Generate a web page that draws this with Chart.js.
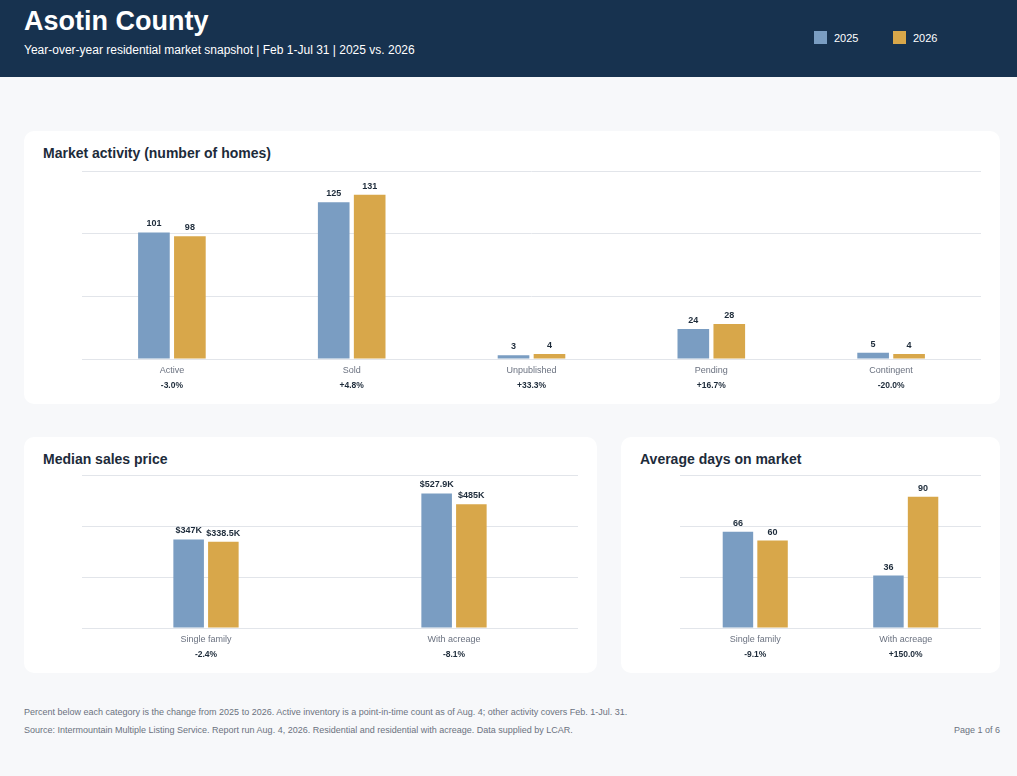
<!DOCTYPE html>
<html><head><meta charset="utf-8">
<script src="https://cdn.jsdelivr.net/npm/chart.js@4.4.1/dist/chart.umd.min.js"></script>
<style>
body{margin:0;width:1017px;height:776px;background:#f7f8fa;font-family:"Liberation Sans",Arial,sans-serif;position:relative;overflow:hidden}
.hdr{position:absolute;left:0;top:0;width:1017px;height:77px;background:#17324f;color:#fff}
.hdr h1{position:absolute;left:24px;top:6px;margin:0;font-size:27px;font-weight:bold}
.hdr .sub{position:absolute;left:24px;top:43px;font-size:12px}
.lg{position:absolute;top:31px;font-size:11px;display:flex;align-items:center}
.lg i{display:inline-block;width:13px;height:13px;margin-right:7px}
.card{position:absolute;background:#fff;border-radius:10px}
.card h2{position:absolute;left:19px;top:14px;margin:0;font-size:14px;font-weight:bold;color:#1d2b3a}
.cv{position:absolute}
.foot{position:absolute;left:24px;font-size:9px;color:#6b7280}
</style></head><body>
<div class="hdr"><h1>Asotin County</h1><div class="sub">Year-over-year residential market snapshot | Feb 1-Jul 31 | 2025 vs. 2026</div>
<div class="lg" style="left:814px"><i style="background:#7a9dc2"></i>2025</div>
<div class="lg" style="left:893px"><i style="background:#d8a74a"></i>2026</div></div>
<div class="card" style="left:24px;top:131px;width:976px;height:273px"><h2>Market activity (number of homes)</h2>
<div class="cv" style="left:58px;top:40px;width:899px;height:226px"><canvas id="c1"></canvas></div></div>
<div class="card" style="left:24px;top:437px;width:573px;height:236px"><h2>Median sales price</h2>
<div class="cv" style="left:58px;top:38px;width:496px;height:192px"><canvas id="c2"></canvas></div></div>
<div class="card" style="left:621px;top:437px;width:379px;height:236px"><h2>Average days on market</h2>
<div class="cv" style="left:59px;top:38px;width:301px;height:192px"><canvas id="c3"></canvas></div></div>
<div class="foot" style="top:707px">Percent below each category is the change from 2025 to 2026. Active inventory is a point-in-time count as of Aug. 4; other activity covers Feb. 1-Jul. 31.</div>
<div class="foot" style="top:725px">Source: Intermountain Multiple Listing Service. Report run Aug. 4, 2026. Residential and residential with acreage. Data supplied by LCAR.</div>
<div class="foot" style="top:725px;left:auto;right:17px">Page 1 of 6</div>
<script>
const activityCats = ['Active', 'Sold', 'Unpublished', 'Pending', 'Contingent'];
const activity2025 = [101, 125, 3, 24, 5];
const activity2026 = [98, 131, 4, 28, 4];
const activityChange = ['-3.0%', '+4.8%', '+33.3%', '+16.7%', '-20.0%'];

const typeCats = ['Single family', 'With acreage'];
const price2025 = [347000, 527900];
const price2026 = [338500, 485000];
const priceChange = ['-2.4%', '-8.1%'];

const days2025 = [66, 36];
const days2026 = [60, 90];
const daysChange = ['-9.1%', '+150.0%'];

const fmtPrice = v => '$' + (v / 1000) + 'K';
const fmtNum = v => String(v);

// value labels above bars, category name and change percent under each category
const labelPlugin = {
  id: 'labels',
  afterDatasetsDraw(chart, args, opts) {
    const ctx = chart.ctx;
    ctx.save();
    ctx.fillStyle = '#1d2b3a';
    ctx.font = 'bold 9px "Liberation Sans", Arial';
    ctx.textAlign = 'center';
    ctx.textBaseline = 'bottom';
    chart.data.datasets.forEach((ds, i) => {
      chart.getDatasetMeta(i).data.forEach((bar, j) => {
        ctx.fillText(opts.fmt(ds.data[j]), bar.x, bar.y - 4);
      });
    });
    const xs = chart.scales.x;
    const bottom = chart.chartArea.bottom;
    ctx.textBaseline = 'middle';
    chart.data.labels.forEach((t, j) => {
      ctx.fillStyle = '#6b7280';
      ctx.font = '9px "Liberation Sans", Arial';
      ctx.fillText(t, xs.getPixelForValue(j), bottom + 12);
      ctx.fillStyle = '#1d2b3a';
      ctx.font = 'bold 8.5px "Liberation Sans", Arial';
      ctx.fillText(opts.change[j], xs.getPixelForValue(j), bottom + 27);
    });
    ctx.restore();
  }
};

function makeChart(id, cats, a, b, max, step, fmt, change, catPct, barPct, pad) {
  new Chart(document.getElementById(id), {
    type: 'bar',
    data: {
      labels: cats,
      datasets: [
        { label: '2025', data: a, backgroundColor: '#7a9dc2', categoryPercentage: catPct, barPercentage: barPct },
        { label: '2026', data: b, backgroundColor: '#d8a74a', categoryPercentage: catPct, barPercentage: barPct }
      ]
    },
    options: {
      responsive: true,
      maintainAspectRatio: false,
      animation: false,
      layout: { padding: { bottom: pad } },
      plugins: { legend: { display: false }, tooltip: { enabled: false }, labels: { fmt: fmt, change: change } },
      scales: {
        x: { grid: { display: false }, border: { color: '#e2e5ea' }, ticks: { display: false } },
        y: { min: 0, max: max, ticks: { display: false, stepSize: step }, border: { display: false },
             grid: { color: '#e2e5ea', drawTicks: false } }
      }
    },
    plugins: [labelPlugin]
  });
}

makeChart('c1', activityCats, activity2025, activity2026, 150, 50, fmtNum, activityChange, 0.4, 0.88, 30);
makeChart('c2', typeCats, price2025, price2026, 600000, 200000, fmtPrice, priceChange, 0.28, 0.88, 31);
makeChart('c3', typeCats, days2025, days2026, 105, 35, fmtNum, daysChange, 0.46, 0.88, 31);
</script>
</body></html>
